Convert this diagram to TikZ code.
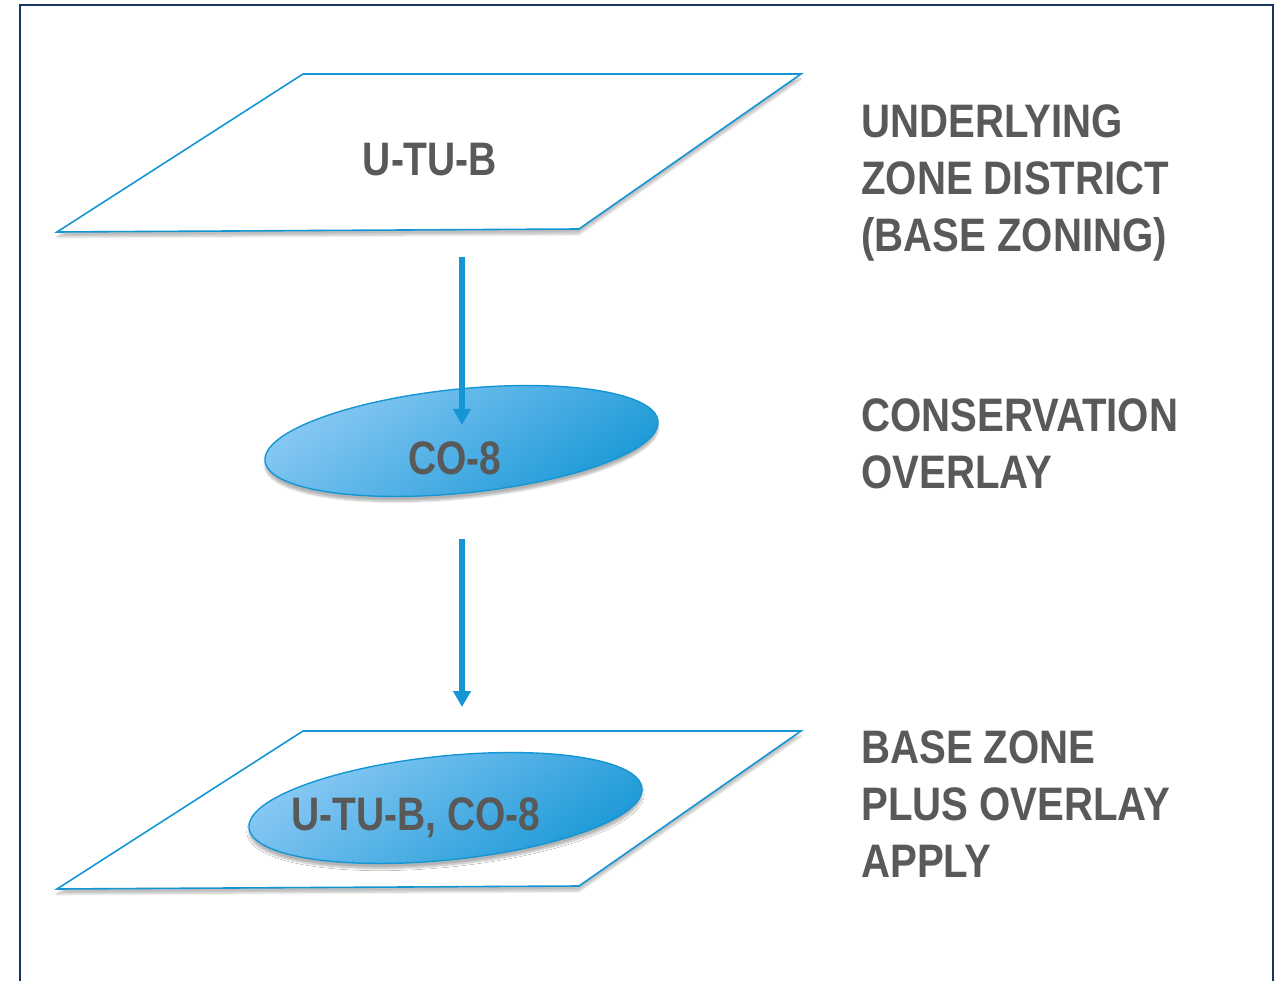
\documentclass[tikz,border=0pt]{standalone}
\usepackage{fontspec}
\setmainfont{Liberation Sans}[FakeStretch=0.83]
\newfontfamily\sidefont{Liberation Sans}[FakeStretch=0.855]
\usetikzlibrary{shapes.geometric,shadows.blur,arrows.meta}
\definecolor{lineblue}{RGB}{20,150,212}
\definecolor{lightfill}{RGB}{140,202,245}
\definecolor{darkfill}{RGB}{25,152,214}
\definecolor{txtgray}{RGB}{89,89,89}
\definecolor{framenavy}{RGB}{24,54,96}
\tikzset{
  plane/.style={draw=lineblue, line width=1.6pt, fill=white, line join=miter,
    blur shadow={shadow xshift=0pt, shadow yshift=-5pt, shadow blur steps=8, shadow opacity=25}},
  disc/.style={ellipse, draw=lineblue, line width=1.4pt, minimum width=395pt, minimum height=104pt,
    rotate=5.8, left color=lightfill, right color=darkfill, shading angle=35,
    blur shadow={shadow xshift=0pt, shadow yshift=-5pt, shadow blur steps=8, shadow opacity=30}},
  flow/.style={draw=lineblue, line width=5.5pt, -{Triangle[length=16pt,width=17pt]}},
  lbl/.style={text=txtgray, font=\fontsize{47}{57}\selectfont\bfseries, inner sep=0pt},
  side/.style={text=txtgray, font=\fontsize{47}{57}\sidefont\bfseries, inner sep=0pt, anchor=north west, align=left}
}
\begin{document}
\begin{tikzpicture}[x=1pt,y=-1pt]
\useasboundingbox (0,0) rectangle (1275,981);
% frame
\draw[framenavy, line width=2pt] (20,995) -- (20,5) -- (1273,5) -- (1273,995);
% top plane
\path[plane] (303,74) -- (801,74) -- (579,229) -- (57,232) -- cycle;
\node[lbl] (tl) at (430,160) {U-TU-B};
% middle ellipse
\node[disc] (co) at (461.5,441) {};
\coordinate (a1s) at (462,257);
\coordinate (a1e) at (462,425);
\draw[flow] (a1s) -- (a1e);
\node[lbl] (cl) at (455,458) {CO-8};
% second arrow
\coordinate (a2s) at (462,539);
\coordinate (a2e) at (462,707);
\draw[flow] (a2s) -- (a2e);
% bottom plane
\path[plane] (303,731) -- (801,731) -- (579,886) -- (57,889) -- cycle;
\node[disc] (co2) at (445.5,808) {};
\node[lbl, anchor=base] (bl) at (416,830) {U-TU-B, CO-8};
% side texts
\node[side] (t1) at (861,104) {UNDERLYING\\ZONE DISTRICT\\(BASE ZONING)};
\node[side] (t2) at (861,398) {CONSERVATION\\OVERLAY};
\node[side] (t3) at (861,730) {BASE ZONE\\PLUS OVERLAY\\APPLY};
\end{tikzpicture}
\end{document}
